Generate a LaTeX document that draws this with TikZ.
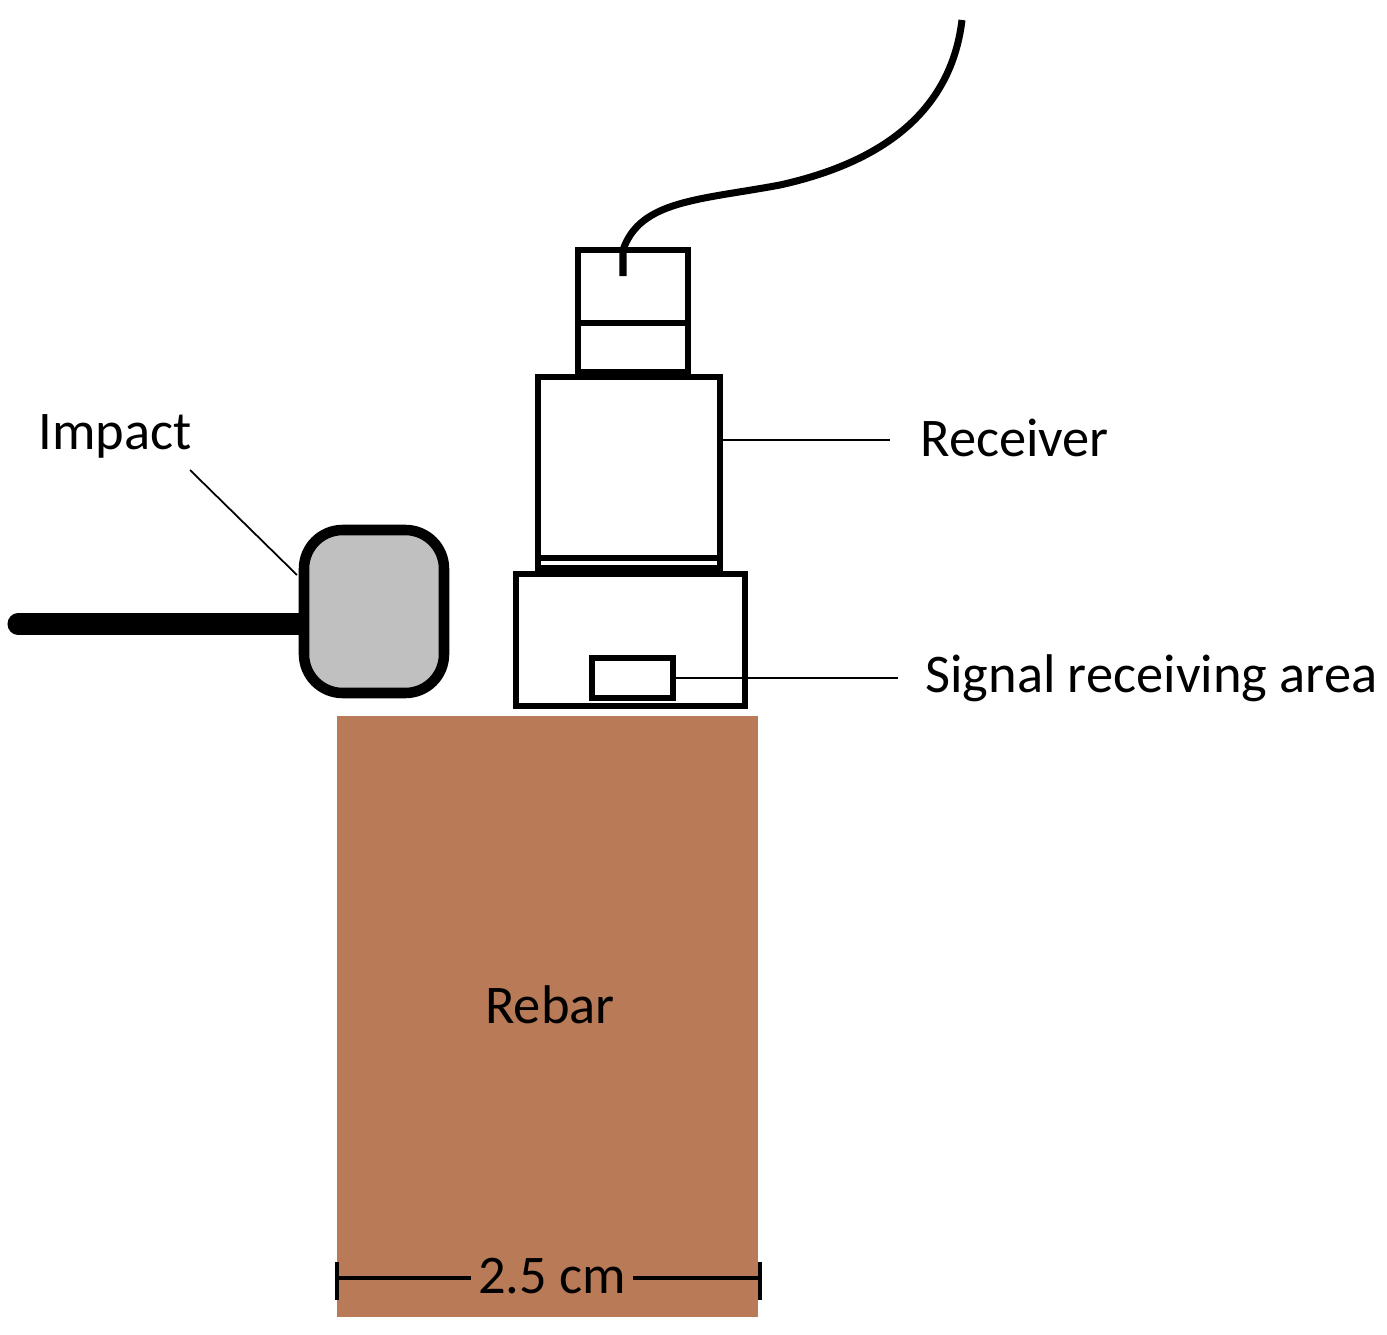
\documentclass[tikz,border=0pt]{standalone}
\usepackage{fontspec}
\setmainfont{Carlito}
\begin{document}
\begin{tikzpicture}[x=0.02cm,y=-0.02cm,
  part/.style={draw=black,line width=3.4pt,fill=white},
  lead/.style={draw=black,line width=1.2pt},
  lbl/.style={font=\fontsize{31}{36}\selectfont,inner sep=0pt}]
\useasboundingbox (0,0) rectangle (1387,1335);
\fill[fill={rgb,255:red,184;green,122;blue,87}] (337,716) rectangle (758,1317);
\node[lbl] (rebar) at (550,1005) {Rebar};
\node[lbl,inner xsep=4pt] (dim) at (552,1276) {2.5 cm};
\coordinate (dl) at (337,1278); \coordinate (dr) at (760,1278);
\draw[line width=2pt] (dl) -- (dl -| dim.west) (dr -| dim.east) -- (dr);
\draw[line width=2pt] (337,1262) -- (337,1300) (760,1262) -- (760,1300);
% receiver
\draw[part] (578,250) rectangle (688,372);
\draw[line width=3.4pt] (578,323) -- (688,323);
\draw[part] (538,377) rectangle (720,568);
\draw[line width=3.4pt] (538,558) -- (720,558);
\draw[part] (516,574) rectangle (745,706);
\draw[part] (592,658) rectangle (673,698);
% cable
\draw[line width=4pt] (623,276) -- (623,250) .. controls (640,200) and (700,200) .. (780,185)
  .. controls (870,165) and (950,120) .. (962,20);
\node[lbl,anchor=west] (rec) at (920,438) {Receiver};
\draw[lead] (720,440) -- (890,440);
\node[lbl,anchor=west] (sig) at (925,678) {Signal receiving area};
\draw[lead] (673,678) -- (898,678);
% impact
\draw[line width=12pt,line cap=round] (18,624) -- (302,624);
\draw[line width=6pt,fill={rgb,255:red,192;green,192;blue,192},rounded corners=22] (304,530) rectangle (444,693);
\node[lbl,anchor=west] (imp) at (38,436) {Impact};
\draw[line width=1pt] (190,470) -- (297,575);
\end{tikzpicture}
\end{document}
